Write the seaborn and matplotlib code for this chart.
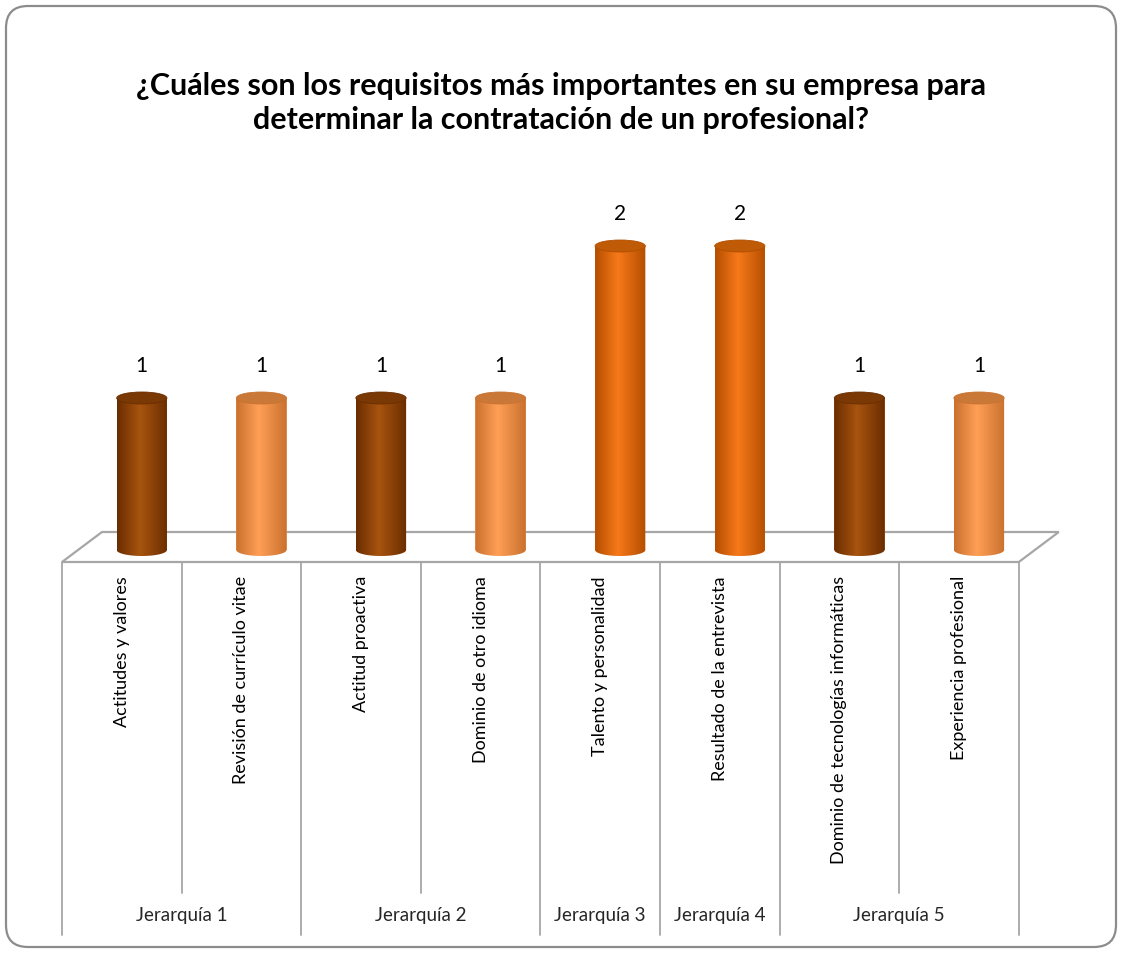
import numpy as np
import pandas as pd
import matplotlib
matplotlib.use("Agg")
import matplotlib.pyplot as plt
from matplotlib.patches import Ellipse, FancyBboxPatch, PathPatch, Polygon
from matplotlib.path import Path
from matplotlib.colors import LinearSegmentedColormap
import seaborn as sns

# datos del grafico
titulo = ("¿Cuáles son los requisitos más importantes en su empresa para\n"
          "determinar la contratación de un profesional?")
requisitos = ["Actitudes y valores", "Revisión de currículo vitae",
              "Actitud proactiva", "Dominio de otro idioma",
              "Talento y personalidad", "Resultado de la entrevista",
              "Dominio de tecnologías informáticas", "Experiencia profesional"]
valores = [1, 1, 1, 1, 2, 2, 1, 1]
jerarquias = ["Jerarquía 1", "Jerarquía 1", "Jerarquía 2", "Jerarquía 2",
              "Jerarquía 3", "Jerarquía 4", "Jerarquía 5", "Jerarquía 5"]
tonos = ["oscuro", "claro", "oscuro", "claro", "medio", "medio", "oscuro", "claro"]

# colores por tono: (borde, centro, tapa)
colores = {
    "oscuro": ("#6A2D00", "#A8540F", "#7A3804"),
    "claro": ("#C9712F", "#FF9F55", "#C97838"),
    "medio": ("#B44E00", "#F7791A", "#BF5A06"),
}

sns.set_theme(style="white")
plt.rcParams["font.family"] = ["Lato", "DejaVu Sans"]

W, H = 1122, 955
fig = plt.figure(figsize=(W / 100, H / 100), dpi=100)

# capa de fondo en pixeles (marco, piso, tabla de categorias)
bg = fig.add_axes([0, 0, 1, 1])
bg.set_xlim(0, W)
bg.set_ylim(H, 0)
bg.axis("off")

bg.add_patch(FancyBboxPatch((6, 6), W - 12, H - 14,
                            boxstyle="round,pad=0,rounding_size=22",
                            facecolor="white", edgecolor="#8C8C8C", lw=1.6))

bg.text(W / 2, 103, titulo, ha="center", va="center", fontsize=22,
        fontweight="bold", linespacing=1.25, color="black")

n = len(requisitos)
x0_tab, cell_w = 62, 119.6
y_front, y_back, depth = 562, 532, 40

gris = "#A6A6A6"
bg.add_patch(Polygon([(x0_tab, y_front), (x0_tab + depth, y_back),
                      (x0_tab + n * cell_w + depth, y_back),
                      (x0_tab + n * cell_w, y_front)],
                     closed=True, facecolor="white", edgecolor=gris, lw=1.6))

# lineas verticales de la tabla
for i in range(n + 1):
    x = x0_tab + i * cell_w
    borde_grupo = i == 0 or i == n or jerarquias[i - 1] != jerarquias[i]
    bg.plot([x, x], [y_front, 935 if borde_grupo else 893], color=gris, lw=1.3)

for i, txt in enumerate(requisitos):
    bg.text(x0_tab + (i + 0.5) * cell_w, 576, txt, rotation=90,
            ha="center", va="top", fontsize=13, color="black")

grupos = list(dict.fromkeys(jerarquias))
for g in grupos:
    idx = [i for i, j in enumerate(jerarquias) if j == g]
    xc = x0_tab + (idx[0] + idx[-1] + 1) / 2 * cell_w
    bg.text(xc, 915, g, ha="center", va="center", fontsize=13.5)

# ejes de las barras
base_px, unit_px = 550, 152
ymin, ymax = -0.1, 2.5
left_px = x0_tab + depth / 2
ax = fig.add_axes([left_px / W, (H - (base_px - ymin * unit_px)) / H,
                   n * cell_w / W, (ymax - ymin) * unit_px / H])
ax.patch.set_alpha(0)

df = pd.DataFrame({"requisito": requisitos, "valor": valores})
sns.barplot(data=df, x="requisito", y="valor", ax=ax, width=0.42,
            color="#F7791A", saturation=1, errorbar=None)

e = 12 / unit_px  # alto de la elipse en datos
grad = np.linspace(0, 1, 256)[None, :]
for p, tono, v in zip(ax.patches, tonos, valores):
    borde, centro, tapa = colores[tono]
    x0, w, h = p.get_x(), p.get_width(), p.get_height()
    cx = x0 + w / 2
    p.set_facecolor(centro)
    p.set_edgecolor("none")
    cmap = LinearSegmentedColormap.from_list(
        tono, [(0, borde), (0.45, centro), (1, borde)])
    t = np.linspace(np.pi, 2 * np.pi, 40)
    verts = list(zip(cx + w / 2 * np.cos(t), e / 2 * np.sin(t)))
    verts += [(x0 + w, h), (x0, h), verts[0]]
    codes = [Path.MOVETO] + [Path.LINETO] * (len(verts) - 2) + [Path.CLOSEPOLY]
    clip = PathPatch(Path(verts, codes), transform=ax.transData)
    im = ax.imshow(grad, extent=[x0, x0 + w, -e / 2, h], aspect="auto",
                   cmap=cmap, origin="lower", zorder=2)
    im.set_clip_path(clip)
    ax.add_patch(Ellipse((cx, h), w, e, facecolor=tapa, edgecolor=borde,
                         lw=0.6, zorder=3))
    ax.text(cx, h + 0.21, str(v), ha="center", va="center", fontsize=15,
            color="black")

ax.set_xlim(-0.5, n - 0.5)
ax.set_ylim(ymin, ymax)
ax.axis("off")

fig.savefig("out.png", dpi=100)
